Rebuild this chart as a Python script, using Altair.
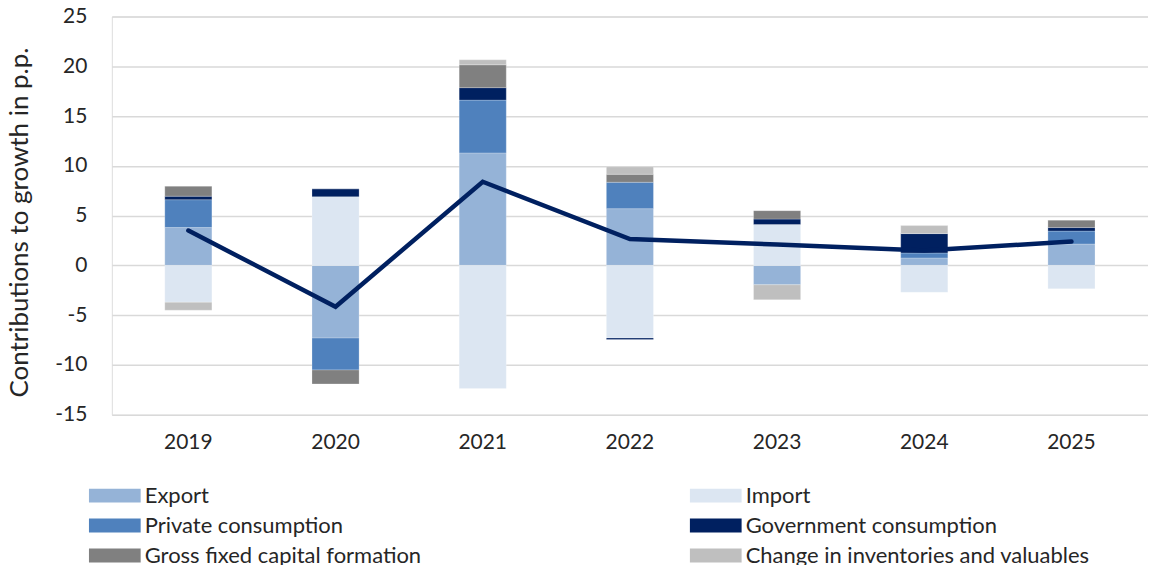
import altair as alt
import pandas as pd

years = ["2019", "2020", "2021", "2022", "2023", "2024", "2025"]
series = ["Export", "Import", "Private consumption", "Government consumption",
          "Gross fixed capital formation", "Change in inventories and valuables"]
colors = ["#95B3D7", "#DCE6F2", "#4F81BD", "#002060", "#808080", "#BFBFBF"]
# legend reading order (column-major layout, 3 rows x 2 columns)
legend_order = [0, 2, 4, 1, 3, 5]

export = [3.8, -7.3, 11.3, 5.7, -1.95, 0.75, 2.15]
imports = [-3.7, 6.9, -12.35, -7.3, 4.1, -2.7, -2.35]
private = [2.8, -3.2, 5.3, 2.65, 0.0, 0.5, 1.3]
government = [0.35, 0.8, 1.25, -0.15, 0.55, 1.95, 0.35]
gfcf = [1.0, -1.4, 2.3, 0.8, 0.85, 0.0, 0.75]
inventories = [-0.8, 0.0, 0.5, 0.75, -1.5, 0.8, 0.0]
gdp_growth = [3.5, -4.15, 8.4, 2.65, 2.1, 1.5, 2.4]

rows = []
for si, (name, vals) in enumerate(zip(series, [export, imports, private, government, gfcf, inventories])):
    for y, v in zip(years, vals):
        rows.append({"year": y, "series": name, "value": v, "order": si})
bars_df = pd.DataFrame(rows)
line_df = pd.DataFrame({"year": years, "growth": gdp_growth})

FONT = "Lato"
TXT = "#262626"
leg_domain = [series[i] for i in legend_order]
leg_range = [colors[i] for i in legend_order]

x_enc = alt.X("year:N", sort=years, title=None,
              scale=alt.Scale(paddingInner=0.68, paddingOuter=0.36),
              axis=alt.Axis(labelAngle=0, ticks=False, tickSize=0, domain=False,
                            labelPadding=17, labelFontSize=21, labelFont=FONT,
                            labelColor=TXT, grid=False))

bars = alt.Chart(bars_df).mark_bar(stroke="white", strokeWidth=0.4, strokeOpacity=0.6).encode(
    x=x_enc,
    y=alt.Y("value:Q", stack="zero",
            scale=alt.Scale(domain=[-15, 25], nice=False),
            axis=alt.Axis(values=list(range(-15, 26, 5)), title="Contributions to growth in p.p.",
                          labelExpr="'' + datum.value",
                          ticks=False, tickSize=0, domain=False, labelPadding=25,
                          labelFontSize=21, labelFont=FONT, labelColor=TXT,
                          titleFontSize=26, titleFont=FONT, titleFontWeight="normal",
                          titleColor=TXT, titleX=-79, titleY=206, gridColor="#D9D9D9",
                          gridWidth=1.5)),
    color=alt.Color("series:N",
                    scale=alt.Scale(domain=leg_domain, range=leg_range),
                    legend=alt.Legend(title=None, orient="none", legendX=-8, legendY=469,
                                      columns=2, columnPadding=269, rowPadding=8,
                                      symbolType="M-3.7,-1H3.7V1H-3.7Z", symbolSize=196,
                                      symbolStrokeWidth=0, labelFontSize=22, labelFont=FONT,
                                      labelColor=TXT, labelOffset=19, labelLimit=600)),
    order=alt.Order("order:Q", sort="ascending"),
)

line = alt.Chart(line_df).mark_line(color="#002060", strokeWidth=4.5, strokeCap="round",
                                    strokeJoin="miter").encode(
    x=alt.X("year:N", sort=years),
    y=alt.Y("growth:Q"),
)

chart = (bars + line).properties(
    width=1038, height=399,
    padding={"left": 104, "top": 8, "right": 0, "bottom": 150},
    autosize=alt.AutoSizeParams(type="none"),
).configure_view(stroke=None).configure(background="white")

chart.save("out.html", embed_options={"renderer": "svg", "actions": False})
